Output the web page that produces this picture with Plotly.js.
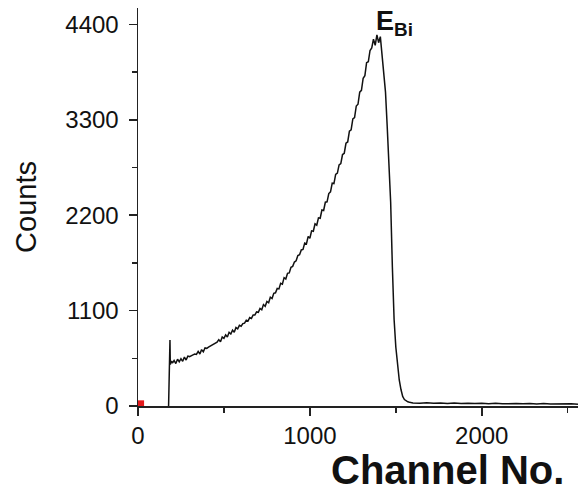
<!DOCTYPE html>
<html>
<head>
<meta charset="utf-8">
<script src="https://cdn.plot.ly/plotly-3.0.1.min.js"></script>
<style>html,body{margin:0;padding:0;background:#fff;}#chart{width:578px;height:492px;}</style>
</head>
<body>
<div id="chart"></div>
<script>
// Spectrum: channel numbers and counts
const channels = [
  178, 186, 188, 195,
  200, 210, 220, 230, 240, 250, 260, 270, 280, 290,
  300, 310, 320, 330, 340, 350, 360, 370, 380, 390,
  400, 410, 420, 430, 440, 450, 460, 470, 480, 490,
  500, 510, 520, 530, 540, 550, 560, 570, 580, 590,
  600, 610, 620, 630, 640, 650, 660, 670, 680, 690,
  700, 710, 720, 730, 740, 750, 760, 770, 780, 790,
  800, 810, 820, 830, 840, 850, 860, 870, 880, 890,
  900, 910, 920, 930, 940, 950, 960, 970, 980, 990,
  1000, 1010, 1020, 1030, 1040, 1050, 1060, 1070, 1080, 1090,
  1100, 1110, 1120, 1130, 1140, 1150, 1160, 1170, 1180, 1190,
  1200, 1210, 1220, 1230, 1240, 1250, 1260, 1270, 1280, 1290,
  1300, 1310, 1320, 1330, 1340, 1350, 1360, 1370, 1380, 1390,
  1400, 1410, 1420, 1430, 1440, 1450, 1460, 1470, 1480, 1490,
  1500, 1510, 1520, 1530, 1540, 1550, 1560, 1570, 1580,
  1600, 1640, 1680, 1720, 1760, 1800, 1840, 1880, 1920, 1960,
  2000, 2040, 2080, 2120, 2160, 2200, 2240, 2280, 2320, 2360,
  2400, 2440, 2480, 2520, 2560
];
const counts = [
  0, 760, 480, 520,
  495, 525, 490, 540, 510, 545, 515, 565, 530, 575,
  570, 585, 590, 600, 595, 630, 600, 650, 625, 670,
  665, 680, 690, 705, 710, 725, 735, 765, 740, 795,
  780, 820, 795, 850, 830, 875, 850, 905, 890, 930,
  920, 950, 955, 990, 980, 1020, 1010, 1050, 1050, 1085,
  1080, 1125, 1110, 1170, 1150, 1205, 1190, 1255, 1240, 1300,
  1305, 1355, 1350, 1415, 1405, 1480, 1465, 1530, 1535, 1600,
  1610, 1660, 1675, 1735, 1745, 1800, 1805, 1880, 1870, 1955,
  1935, 2020, 2015, 2100, 2085, 2170, 2165, 2260, 2255, 2350,
  2355, 2450, 2470, 2570, 2565, 2670, 2685, 2780, 2795, 2900,
  2915, 3030, 3045, 3170, 3185, 3310, 3325, 3460, 3480, 3620,
  3640, 3780, 3810, 3960, 3970, 4100, 4130, 4230, 4160, 4280,
  4190, 4260, 4020, 3860, 3620, 3220, 2780, 2350, 1600, 1000,
  680, 460, 300, 190, 110, 75, 58, 48, 42,
  36, 33, 38, 31, 35, 30, 34, 29, 33, 28,
  32, 27, 31, 26, 30, 28, 25, 29, 24, 28,
  23, 26, 22, 25, 21
];
// Origin marker
const markerX = [15];
const markerY = [25];

const xTicks = [0, 1000, 2000];
const xTickText = ['0', '1000', '2000'];
const yTicks = [0, 1100, 2200, 3300, 4400];
const yTickText = ['0', '1100', '2200', '3300', '4400'];

const FONT = 'Liberation Sans, Arial, Helvetica, sans-serif';

const traces = [
  {
    x: channels, y: counts, type: 'scatter', mode: 'lines',
    line: {color: '#111', width: 1.5},
    hoverinfo: 'skip', showlegend: false
  },
  {
    x: markerX, y: markerY, type: 'scatter', mode: 'markers',
    marker: {symbol: 'square', size: 7, color: '#e3191c'},
    cliponaxis: false, showlegend: false
  }
];

const layout = {
  width: 578, height: 492,
  margin: {l: 138, r: 0, t: 8, b: 86},
  paper_bgcolor: '#fff', plot_bgcolor: '#fff',
  font: {family: FONT, color: '#111'},
  showlegend: false,
  xaxis: {
    range: [0, 2560],
    showgrid: false, zeroline: false,
    showline: true, linecolor: '#222', linewidth: 1.5,
    ticks: 'outside', ticklen: 8, tickwidth: 1.5, tickcolor: '#222',
    tickvals: xTicks, ticktext: xTickText,
    tickfont: {family: FONT, size: 24, color: '#111'},
    minor: {ticks: 'outside', ticklen: 5, tickwidth: 1.5, tickcolor: '#222', dtick: 500, tick0: 0, showgrid: false}
  },
  yaxis: {
    range: [0, 4590],
    showgrid: false, zeroline: false,
    showline: true, linecolor: '#222', linewidth: 1.5,
    ticks: 'outside', ticklen: 8, tickwidth: 1.5, tickcolor: '#222',
    tickvals: yTicks, ticktext: yTickText,
    tickfont: {family: FONT, size: 24, color: '#111'},
    ticklabelstandoff: 5,
    minor: {ticks: 'outside', ticklen: 5, tickwidth: 1.5, tickcolor: '#222', dtick: 550, tick0: 0, showgrid: false},
    title: {text: 'Counts', font: {family: FONT, size: 29, color: '#111'}, standoff: 20}
  },
  annotations: [
    {
      text: '<b>Channel No.</b>', xref: 'paper', yref: 'paper',
      x: 0.972, y: -0.162, xanchor: 'right', yanchor: 'middle',
      showarrow: false, font: {family: FONT, size: 40, color: '#111'}
    },
    {
      text: '<b>E<sub>Bi</sub></b>', xref: 'x', yref: 'y',
      x: 1375, y: 4420, xanchor: 'left', yanchor: 'middle',
      showarrow: false, font: {family: FONT, size: 27, color: '#111'}
    }
  ]
};

Plotly.newPlot('chart', traces, layout, {staticPlot: true, displayModeBar: false});
</script>
</body>
</html>
